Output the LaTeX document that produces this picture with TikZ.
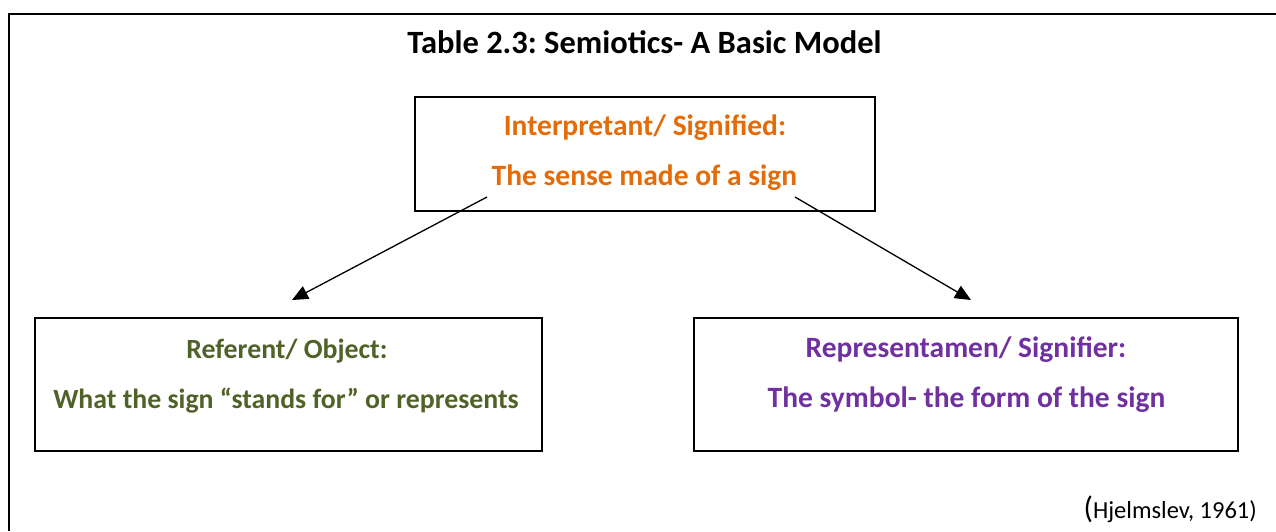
\documentclass[tikz,border=0pt]{standalone}
\usepackage{fontspec}
\setmainfont{Carlito}
\usetikzlibrary{arrows.meta}
\frenchspacing
\definecolor{interp}{HTML}{E36C09}
\definecolor{refgreen}{HTML}{4F6228}
\definecolor{reppurple}{HTML}{7030A0}
\tikzset{
  conceptbox/.style={draw=black, line width=1.5pt, inner sep=0pt},
  boxtext/.style={font=\fontsize{29.5}{34}\selectfont\bfseries, anchor=base, inner sep=0pt},
  greentext/.style={font=\fontsize{27.8}{32}\selectfont\bfseries, anchor=base, inner sep=0pt, text=refgreen},
  link/.style={draw=black, line width=1.3pt, -{Triangle[length=16pt,width=14pt]}},
}
\begin{document}
\begin{tikzpicture}[x=1pt,y=-1pt]
\useasboundingbox (0,0) rectangle (1276,531);
% outer frame (top and left edges visible)
\draw[line width=1.6pt] (9,531) -- (9,14) -- (1276,14);
\node[font=\fontsize{32.5}{36}\selectfont\bfseries, anchor=base, inner sep=0pt] (title) at (644.5,53) {Table 2.3: Semiotics- A Basic Model};
% boxes
\draw[conceptbox] (415,97) rectangle (875,211);
\node[boxtext, text=interp] (i1) at (645,135) {Interpretant/ Signified:};
\node[boxtext, text=interp] (i2) at (644.5,185) {The sense made of a sign};
\draw[conceptbox] (35,318) rectangle (542,451);
\node[greentext] (r1) at (287,358) {Referent/ Object:};
\node[greentext] (r2) at (286,408) {What the sign “stands for” or represents};
\draw[conceptbox] (694,318) rectangle (1238,451);
\node[boxtext, text=reppurple] (p1) at (966,357) {Representamen/ Signifier:};
\node[boxtext, text=reppurple] (p2) at (966.5,407) {The symbol- the form of the sign};
% arrows
\coordinate (aL) at (487,197);
\coordinate (aLe) at (292,300);
\coordinate (aR) at (795,197);
\coordinate (aRe) at (971,300);
\draw[link] (aL) -- (aLe);
\draw[link] (aR) -- (aRe);
\node[anchor=base east, inner sep=0pt, font=\fontsize{24.5}{28}\selectfont] (cite) at (1257,518) {{\fontsize{31}{34}\selectfont(}Hjelmslev, 1961)};
\end{tikzpicture}
\end{document}
